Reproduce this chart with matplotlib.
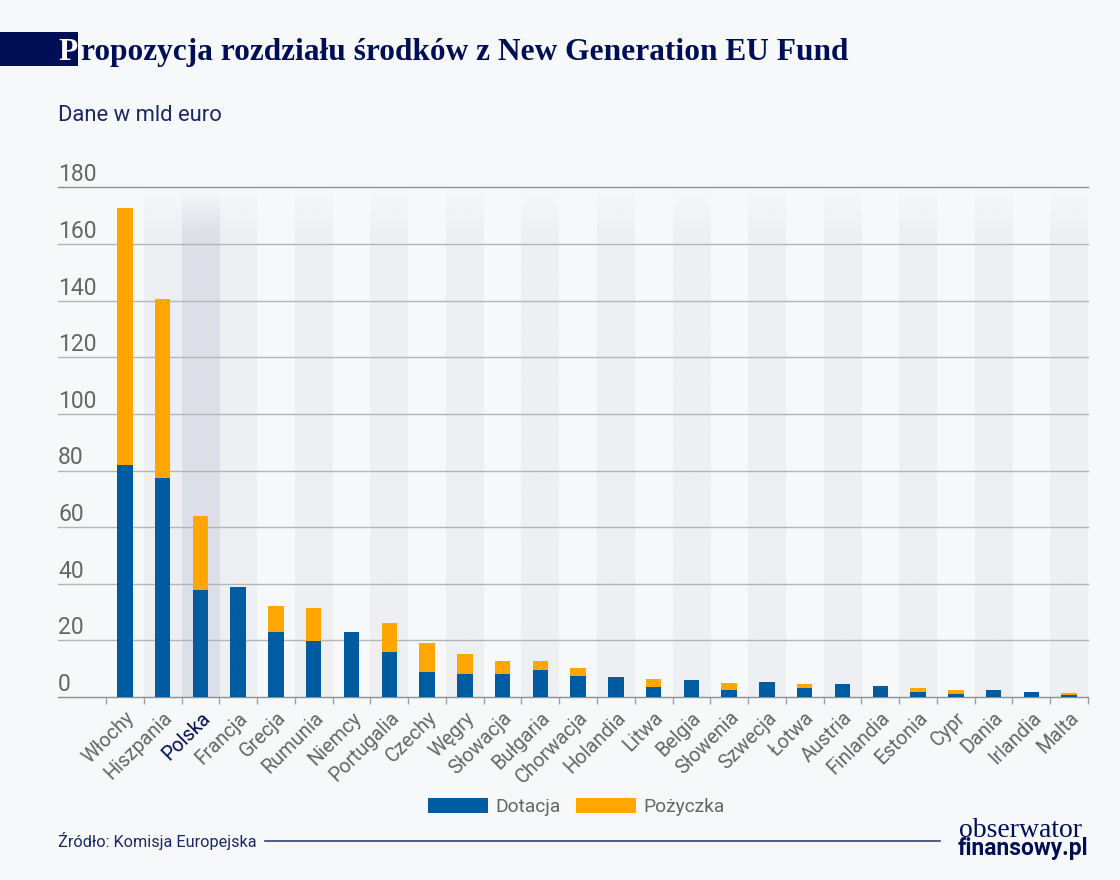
import numpy as np
import matplotlib
matplotlib.use("Agg")
import matplotlib.pyplot as plt
from matplotlib.patches import Rectangle
from matplotlib.colors import to_rgb

kraje = ["Włochy", "Hiszpania", "Polska", "Francja", "Grecja", "Rumunia", "Niemcy",
         "Portugalia", "Czechy", "Węgry", "Słowacja", "Bułgaria", "Chorwacja", "Holandia",
         "Litwa", "Belgia", "Słowenia", "Szwecja", "Łotwa", "Austria", "Finlandia",
         "Estonia", "Cypr", "Dania", "Irlandia", "Malta"]
dotacja = [82, 77.4, 37.7, 39, 23, 19.8, 23, 16, 9, 8.2, 8.2, 9.5, 7.5,
           7.1, 3.7, 5.9, 2.5, 5.2, 3.2, 4.5, 3.9, 1.9, 1.2, 2.5, 1.9, 0.6]
pozyczka = [90.8, 63.2, 26.3, 0, 9, 11.5, 0, 10.1, 10.2, 7.1, 4.5, 3.2, 2.7,
            0, 2.7, 0, 2.6, 0, 1.3, 0, 0, 1.3, 1.3, 0, 0, 0.7]
y_ticks = [0, 20, 40, 60, 80, 100, 120, 140, 160, 180]

TLO = "#f7f8fa"
GRANAT = "#000f55"
NIEBIESKI = "#005ca1"
POMARANCZ = "#ffa700"
SZARY = "#666666"

plt.rcParams["font.family"] = ["Roboto", "DejaVu Sans"]

fig = plt.figure(figsize=(11.2, 8.8), dpi=100, facecolor=TLO)

# axes in pixel terms: x 58-1088, y 187.5-697
ax = fig.add_axes([58 / 1120, 1 - 697 / 880, (1088 - 58) / 1120, (697 - 187.5) / 880])
ax.patch.set_visible(False)

krok = (1088 - 106) / 26
x_lewy = -0.5 - (106 - 58) / krok

# pasy w tle, u gory wygaszone do koloru tla
for i in list(range(1, len(kraje), 2)) + [2]:
    kolor = "#dcdfe8" if kraje[i] == "Polska" else "#eeeff3"
    grad = np.ones((100, 1, 4))
    grad[:, :, :3] = to_rgb(kolor)
    grad[:, 0, 3] = np.clip(np.linspace(0, 1, 100) / 0.09, 0, 1)
    ax.imshow(grad, extent=(i - 0.5, i + 0.5, 0, 180), origin="upper", aspect="auto", zorder=0,
              interpolation="bilinear")
ax.set_xlim(x_lewy, 25.5)
ax.set_ylim(0, 180)

for v in y_ticks:
    ax.axhline(v, color="#8f8f8f" if v in (0, 180) else "#b5b5b5", lw=1.0, zorder=1, clip_on=False)
    ax.text(x_lewy, v + 0.4, str(v), ha="left", va="bottom", fontsize=16.5, color=SZARY)

x = np.arange(len(kraje))
ax.bar(x, dotacja, width=0.41, color=NIEBIESKI, label="Dotacja", zorder=2)
ax.bar(x, pozyczka, width=0.41, bottom=dotacja, color=POMARANCZ, label="Pożyczka", zorder=2)

for s in ax.spines.values():
    s.set_visible(False)
ax.set_yticks([])
ax.set_xticks(x, kraje, rotation=45, ha="right", rotation_mode="anchor", fontsize=14.2, color=SZARY)
ax.tick_params(axis="x", length=0, pad=8)
ax.set_xticks(np.arange(-0.5, 26, 1), minor=True)
ax.tick_params(axis="x", which="minor", length=5, width=1, color="#a0a0a0")
ax.get_xticklabels()[2].set_color(GRANAT)

ax.legend(loc="center", bbox_to_anchor=(576.5 / 1120, 1 - 807 / 880), bbox_transform=fig.transFigure,
          ncol=2, frameon=False, fontsize=13.8, labelcolor=SZARY, handlelength=3.13, handleheight=0.82,
          handletextpad=0.36, columnspacing=0.82)

# naglowek
fig.add_artist(Rectangle((0, 1 - 66 / 880), 78 / 1120, 34 / 880, transform=fig.transFigure,
                         facecolor=GRANAT, edgecolor="none"))
fig.text(58 / 1120, 1 - 60 / 880, "P", family="Liberation Serif", fontweight="bold", fontsize=22.6, color="white")
fig.text(81 / 1120, 1 - 60 / 880, "ropozycja rozdziału środków z New Generation EU Fund",
         family="Liberation Serif", fontweight="bold", fontsize=22.6, color=GRANAT)
fig.text(58 / 1120, 1 - 121 / 880, "Dane w mld euro", fontsize=15.8, color="#1a2868")

# stopka
fig.text(58 / 1120, 1 - 847 / 880, "Źródło: Komisja Europejska", fontsize=11.7, color="#1a2868")
fig.add_artist(plt.Line2D([265 / 1120, 940 / 1120], [1 - 841 / 880] * 2, color="#33406f", lw=1.2))
fig.text(1082 / 1120, 1 - 837 / 880, "obserwator", family="Liberation Serif", fontsize=20,
         color=GRANAT, ha="right")
fig.text(1088 / 1120, 1 - 855 / 880, "finansowy.pl", fontweight="bold", fontsize=16.5, color=GRANAT, ha="right")

fig.savefig("out.png", dpi=100, facecolor=TLO)
